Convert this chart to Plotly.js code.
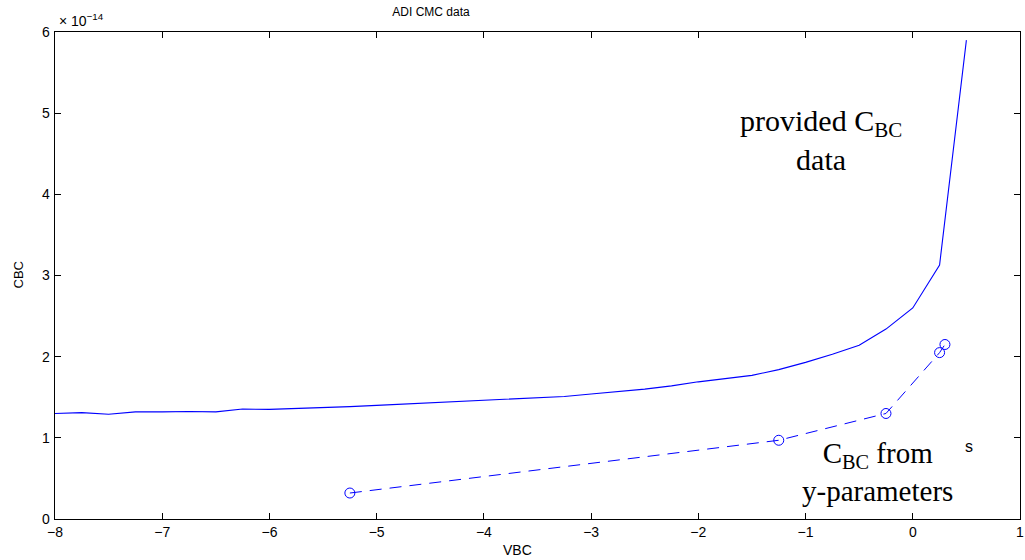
<!DOCTYPE html>
<html>
<head>
<meta charset="utf-8">
<script src="https://cdn.plot.ly/plotly-3.0.1.min.js"></script>
<style>
  html, body { margin: 0; padding: 0; background: #fff; }
  #chart { width: 1025px; height: 560px; }
</style>
</head>
<body>
<div id="chart"></div>
<script>
// Base-collector capacitance vs. bias, in units of 1e-14 F
const vbcProvided = [-8, -7.75, -7.5, -7.25, -7, -6.75, -6.5, -6.25, -6, -5.75, -5.5, -5.25,
  -5, -4.75, -4.5, -4.25, -4, -3.75, -3.5, -3.25, -3, -2.75, -2.5, -2.25, -2, -1.75,
  -1.5, -1.25, -1, -0.75, -0.5, -0.25, 0, 0.25, 0.5];
const cbcProvided = [1.30, 1.31, 1.29, 1.32, 1.32, 1.325, 1.32, 1.355, 1.35, 1.36, 1.37, 1.385,
  1.40, 1.415, 1.43, 1.445, 1.46, 1.475, 1.49, 1.51, 1.54, 1.57, 1.60, 1.64, 1.69, 1.73,
  1.77, 1.84, 1.93, 2.03, 2.14, 2.34, 2.60, 3.13, 5.90];

// Extracted from y-parameters
const vbcYparam = [-5.25, -1.25, -0.25, 0.25, 0.30];
const cbcYparam = [0.32, 0.97, 1.30, 2.05, 2.15];

const xTicks = [-8, -7, -6, -5, -4, -3, -2, -1, 0, 1];
const yTicks = [0, 1, 2, 3, 4, 5, 6];

const lineBlue = '#0000ff';
const sans = 'Liberation Sans, Arial, sans-serif';
const serif = 'Liberation Serif, Times New Roman, serif';

const traces = [
  {
    x: vbcProvided, y: cbcProvided,
    type: 'scatter', mode: 'lines',
    line: { color: lineBlue, width: 1.1 },
    hoverinfo: 'x+y', showlegend: false
  },
  {
    x: vbcYparam, y: cbcYparam,
    type: 'scatter', mode: 'lines+markers',
    line: { color: lineBlue, width: 1, dash: '12px,8px' },
    marker: { symbol: 'circle-open', size: 10, color: lineBlue, line: { width: 1, color: lineBlue } },
    hoverinfo: 'x+y', showlegend: false
  }
];

const axisCommon = {
  showgrid: false, zeroline: false,
  showline: true, linecolor: '#000', linewidth: 1.3,
  mirror: 'ticks', ticks: 'inside', ticklen: 6, tickwidth: 1, tickcolor: '#000',
  tickfont: { family: sans, size: 14, color: '#000' }
};

const layout = {
  width: 1025, height: 560,
  margin: { l: 55, r: 5, t: 32, b: 41 },
  paper_bgcolor: '#fff', plot_bgcolor: '#fff',
  title: {
    text: 'ADI CMC data',
    font: { family: sans, size: 12, color: '#000' },
    xref: 'container', yref: 'container',
    x: 431 / 1025, xanchor: 'center',
    y: 1 - 12 / 560, yanchor: 'middle'
  },
  xaxis: Object.assign({}, axisCommon, {
    range: [-8, 1], tickvals: xTicks, ticktext: xTicks.map(v => String(v).replace('-', '\u2212'))
  }),
  yaxis: Object.assign({}, axisCommon, {
    range: [0, 6], tickvals: yTicks, ticktext: yTicks.map(String), ticklabelstandoff: 1
  }),
  annotations: [
    {
      text: '\u00d7 10<sup>\u221214</sup>', xref: 'paper', yref: 'paper',
      x: 0, y: 1, xanchor: 'left', yanchor: 'bottom', yshift: 1, xshift: 2, showarrow: false,
      font: { family: sans, size: 14, color: '#000' }
    },
    {
      text: 'VBC', xref: 'paper', yref: 'paper',
      x: (517 - 55) / 965, y: 0, xanchor: 'center', yanchor: 'top', yshift: -21, showarrow: false,
      font: { family: sans, size: 14, color: '#000' }
    },
    {
      text: 'CBC', xref: 'paper', yref: 'paper',
      x: 0, y: 0.5, xanchor: 'center', yanchor: 'middle', xshift: -37, textangle: -90, showarrow: false,
      font: { family: sans, size: 13, color: '#000' }
    },
    {
      text: 'provided C<sub>BC</sub><br>data', xref: 'x', yref: 'y',
      x: -0.86, y: 4.67, xanchor: 'center', yanchor: 'middle', showarrow: false,
      font: { family: serif, size: 30, color: '#000' }
    },
    {
      text: 'C<sub>BC</sub> from<br>y-parameters', xref: 'x', yref: 'y',
      x: -0.33, y: 0.58, xanchor: 'center', yanchor: 'middle', showarrow: false,
      font: { family: serif, size: 29, color: '#000' }
    },
    {
      text: 's', xref: 'x', yref: 'y',
      x: 0.52, y: 0.89, xanchor: 'center', yanchor: 'middle', showarrow: false,
      font: { family: sans, size: 16, color: '#000' }
    }
  ]
};

Plotly.newPlot('chart', traces, layout, { staticPlot: true, displayModeBar: false });
</script>
</body>
</html>
